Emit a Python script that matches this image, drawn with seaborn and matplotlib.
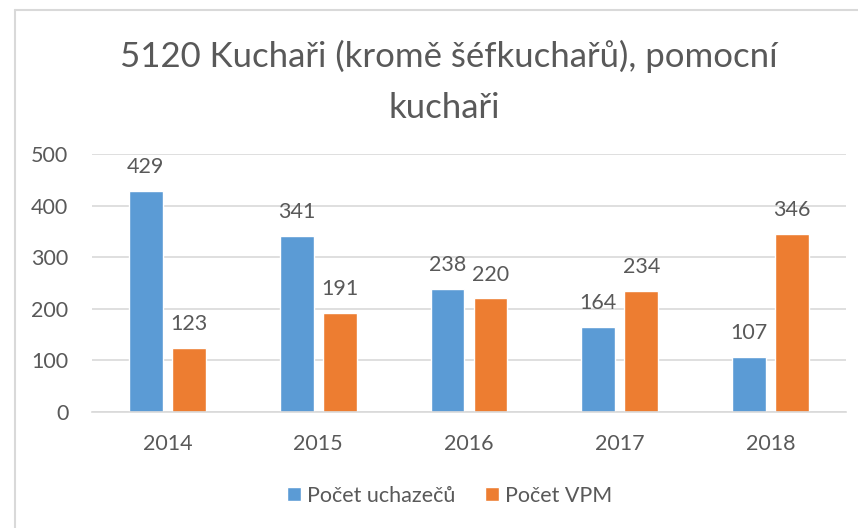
import pandas as pd
import matplotlib.pyplot as plt
import seaborn as sns
from matplotlib.lines import Line2D

years = ["2014", "2015", "2016", "2017", "2018"]
uchazeci = [429, 341, 238, 164, 107]
vpm = [123, 191, 220, 234, 346]
series_names = ["Počet uchazečů", "Počet VPM"]
colors = ["#5B9BD5", "#ED7D31"]
title_lines = ["5120 Kuchaři (kromě šéfkuchařů), pomocní", "kuchaři"]

sns.set_theme(style="white")
plt.rcParams["font.family"] = ["Lato", "DejaVu Sans"]
text_color = "#595959"
grid_color = "#D9D9D9"
W, H = 858, 528

df = pd.DataFrame({
    "year": years * 2,
    "value": uchazeci + vpm,
    "series": [series_names[0]] * len(years) + [series_names[1]] * len(years),
})

fig = plt.figure(figsize=(W / 100, H / 100), dpi=100)
ax = fig.add_axes([92 / W, 1 - 411.7 / H, 754 / W, 257.4 / H])

sns.barplot(data=df, x="year", y="value", hue="series", palette=colors,
            width=0.57, gap=0.21, ax=ax, legend=True, saturation=1)

for cont in ax.containers:
    ax.bar_label(cont, padding=10, fontsize=15.5, color=text_color)

ax.set_ylim(0, 500)
ax.set_yticks(range(0, 501, 100))
ax.set_xlim(-0.5, 4.5)
ax.grid(axis="y", color=grid_color, linewidth=1.2)
ax.set_axisbelow(True)
for s in ["top", "right", "left"]:
    ax.spines[s].set_visible(False)
ax.spines["bottom"].set_color(grid_color)
ax.spines["bottom"].set_linewidth(1.2)
ax.tick_params(axis="both", labelsize=15.5, colors=text_color, length=0)
ax.tick_params(axis="y", pad=17)
ax.tick_params(axis="x", pad=16)
ax.set_xlabel("")
ax.set_ylabel("")

ax.legend(loc="center", bbox_to_anchor=(449.5 / W, 1 - 495.5 / H), bbox_transform=fig.transFigure,
          ncol=2, frameon=False, fontsize=15.5, labelcolor=text_color,
          handlelength=0.65, handleheight=0.65, handletextpad=0.3, columnspacing=1.35)

fig.text(449 / W, 1 - 67 / H, title_lines[0], ha="center", va="baseline", fontsize=25,
         color=text_color)
fig.text(444 / W, 1 - 118 / H, title_lines[1], ha="center", va="baseline", fontsize=25,
         color=text_color)

# chart frame (top and left edges visible)
fig.add_artist(Line2D([15 / W, 15 / W], [0, 1 - 10 / H], transform=fig.transFigure,
                      color=grid_color, linewidth=1.5))
fig.add_artist(Line2D([15 / W, 1], [1 - 10 / H, 1 - 10 / H], transform=fig.transFigure,
                      color=grid_color, linewidth=1.5))

fig.savefig("out.png", dpi=100, facecolor="white")
